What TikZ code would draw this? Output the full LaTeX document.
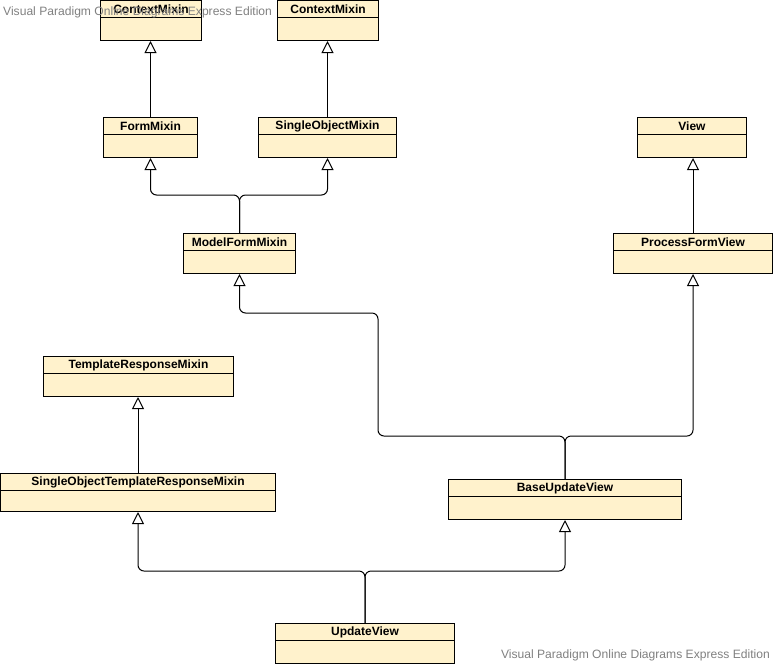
\documentclass[tikz,border=0pt]{standalone}
\usepackage{fontspec}
\setmainfont{Liberation Sans}
\usetikzlibrary{arrows.meta}
\definecolor{clsfill}{HTML}{FFF2CC}
\definecolor{wmgray}{HTML}{808080}
\tikzset{
  umlbox/.style={draw,fill=clsfill,line width=1pt,inner sep=0pt},
  umlhead/.style={draw,line width=1pt,inner sep=0pt,minimum height=17,font=\fontsize{12}{14}\selectfont\bfseries},
  inherit/.style={line width=1pt,rounded corners=6pt,-{Triangle[open,length=12pt,width=12pt]}},
  watermark/.style={text=wmgray,font=\fontsize{12.1}{14}\selectfont,inner sep=0pt}
}
% name, left, top, width, height, label
\newcommand\classbox[6]{%
  \node[umlbox,minimum width=#4,minimum height=#5,anchor=north west](#1)at(#2,#3){};
  \node[umlhead,minimum width=#4,anchor=north](#1-head)at(#1.north){#6};
}
\begin{document}
\begin{tikzpicture}[x=1pt,y=-1pt]
\useasboundingbox(0,0)rectangle(775,665);
\classbox{cma}{100}{0}{101}{40}{ContextMixin}
\classbox{cmb}{277}{0}{101}{40}{ContextMixin}
\classbox{fm}{103}{117}{94}{40}{FormMixin}
\classbox{som}{258}{117}{138}{40}{SingleObjectMixin}
\classbox{mfm}{183}{233}{112}{40}{ModelFormMixin}
\classbox{view}{637}{117}{109}{40}{View}
\classbox{pfv}{613}{233}{159}{40}{ProcessFormView}
\classbox{trm}{43}{356}{190}{40}{TemplateResponseMixin}
\classbox{sotrm}{0}{473}{275}{38}{SingleObjectTemplateResponseMixin}
\classbox{buv}{448}{479}{233}{40}{BaseUpdateView}
\classbox{uv}{275}{623}{179}{40}{UpdateView}
% generalisations
\draw[inherit](fm.north)--(fm.north|-cma.south);
\draw[inherit](som.north)--(som.north|-cmb.south);
\draw[inherit](mfm.north)--++(0,-38)-|(fm.south);
\draw[inherit](mfm.north)--++(0,-38)-|(som.south);
\draw[inherit](pfv.north)--(pfv.north|-view.south);
\draw[inherit](sotrm.north)--(sotrm.north|-trm.south);
\draw[inherit](buv.north)--++(0,-43)-|(378,313)-|(mfm.south);
\draw[inherit](buv.north)--++(0,-43)-|(pfv.south);
\draw[inherit](uv.north)--++(0,-52)-|(sotrm.south);
\draw[inherit](uv.north)--++(0,-52)-|(buv.south);
% watermarks
\node[watermark,anchor=west](wmtop)at(3,12){Visual Paradigm Online Diagrams Express Edition};
\node[watermark,anchor=east](wmbot)at(770,655){Visual Paradigm Online Diagrams Express Edition};
\end{tikzpicture}
\end{document}
